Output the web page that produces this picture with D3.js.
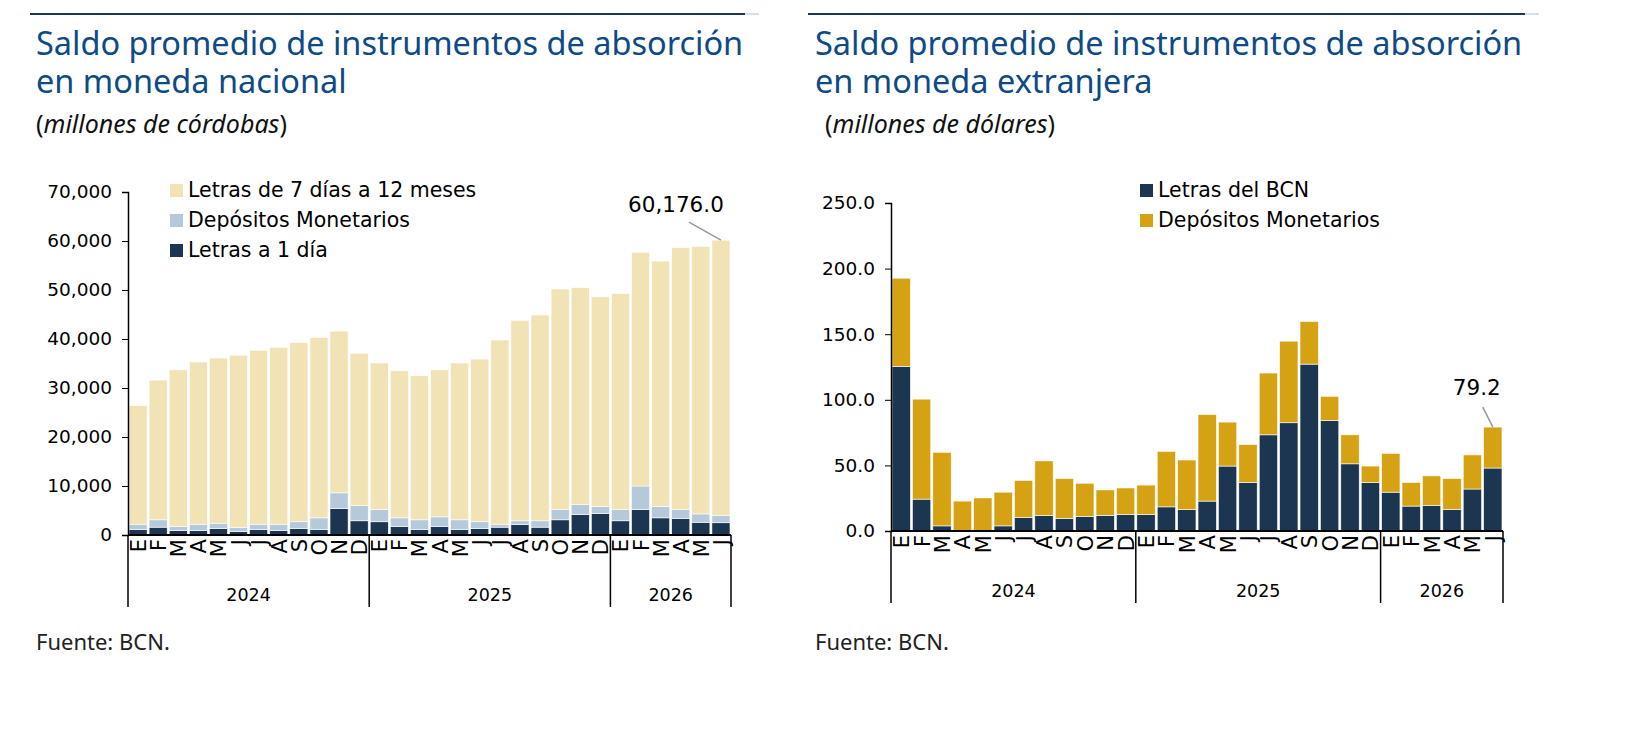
<!DOCTYPE html>
<html><head><meta charset="utf-8">
<script src="https://cdn.jsdelivr.net/npm/d3@7"></script>
<style>
body{margin:0;background:#fff;}
text{font-family:"DejaVu Sans",Verdana,sans-serif;}
.title{font-family:"Noto Sans",sans-serif;fill:#0d4a86;font-size:32.5px;}
.sub{font-family:"Noto Sans",sans-serif;fill:#111;font-size:25px;}
</style></head><body>
<svg id="c" width="1636" height="746"></svg>
<script>
// months and years shared by both panels
const months = ['E','F','M','A','M','J','J','A','S','O','N','D','E','F','M','A','M','J','J','A','S','O','N','D','E','F','M','A','M','J'];
const years = [{y:'2024',n:12},{y:'2025',n:12},{y:'2026',n:6}];

// left panel: millones de córdobas
const cordTotal = [26400,31600,33700,35300,36100,36700,37700,38300,39300,40300,41600,37100,
  35100,33500,32500,33700,35100,35900,39800,43800,44900,50200,50500,48600,49300,57700,55900,58700,58900,60176];
const letras1 = [1100,1600,900,900,1300,700,1100,900,1300,1100,5400,2900,
  2700,1700,1100,1700,1100,1300,1600,2100,1600,3100,4200,4400,2900,5200,3500,3400,2600,2500];
const depCord = [1100,1500,800,1300,1100,800,1100,1300,1400,2400,3200,3100,
  2500,1800,2000,2000,2000,1400,600,800,1300,2100,2000,1400,2300,4800,2300,1800,1700,1500];
const letras7 = cordTotal.map((t,i) => t - letras1[i] - depCord[i]);

// right panel: millones de dólares
const letrasBCN = [125.5,24.3,3.9,0,0,3.9,10.4,11.9,9.7,11.2,11.9,12.6,
  12.6,18.4,16.3,22.8,49.5,36.9,73.3,82.5,127.2,84.2,51.2,36.9,29.6,19,19.5,16.5,32,48];
const dolTotal = [192.7,100.5,60,22.8,25.2,29.6,38.6,53.4,40,36.4,31.3,32.8,
  35,60.7,54.1,88.8,83,65.8,120.4,144.7,159.7,102.7,73.3,49.5,59.2,37,42,40,58,79.2];
const depDol = dolTotal.map((t,i) => +(t - letrasBCN[i]).toFixed(1));

const svg = d3.select('#c');

function panel(o) {
  const g = svg.append('g');
  g.append('line').attr('x1',o.lx1).attr('x2',o.lx2).attr('y1',14).attr('y2',14).attr('stroke','#1c3550').attr('stroke-width',2);
  g.append('line').attr('x1',o.lx2).attr('x2',o.lx2+14).attr('y1',14).attr('y2',14).attr('stroke','#a9bfd4').attr('stroke-width',1);
  o.title.forEach((t,i) => g.append('text').attr('class','title').attr('x',o.tx).attr('y',55+i*38).text(t));
  g.append('text').attr('class','sub').attr('x',o.tx+o.subdx).attr('y',133).html(o.sub);
  g.append('text').attr('x',o.tx).attr('y',650).style('font-family','"Noto Sans",sans-serif').style('font-size','22px').attr('fill','#222').text('Fuente: BCN.');

  const x = d3.scaleBand().domain(d3.range(30)).range([o.x0,o.x1]).paddingInner(0.1).paddingOuter(0.05);
  const y = d3.scaleLinear().domain([0,o.max]).range([o.y0,o.ytop]);
  const stack = d3.stack().keys(o.keys.map((k,i)=>i))(d3.range(30).map(i => o.series.map(s => s[i])));
  stack.forEach((layer,li) => {
    g.selectAll(null).data(layer).enter().append('rect')
      .attr('x',(d,i)=>x(i)).attr('width',x.bandwidth())
      .attr('y',d=>y(d[1])).attr('height',d=>Math.max(0,y(d[0])-y(d[1])))
      .attr('fill',o.colors[li]).attr('stroke','#fff').attr('stroke-width',0.6);
  });
  const ax = d3.axisLeft(y).tickValues(d3.range(0,o.max+1,o.step)).tickFormat(o.fmt).tickSize(6).tickPadding(10);
  const ag = g.append('g').attr('transform',`translate(${o.x0},0)`).call(ax);
  ag.select('.domain').attr('stroke','#000').attr('stroke-width',1.5);
  ag.selectAll('text').style('font-size','18.5px').attr('fill','#000');
  // baseline + month/year labels
  g.append('line').attr('x1',o.x0).attr('x2',o.x1).attr('y1',o.y0).attr('y2',o.y0).attr('stroke','#000').attr('stroke-width',2);
  g.selectAll(null).data(months).enter().append('text')
    .attr('transform',(d,i)=>`translate(${x(i)+x.bandwidth()/2+8},${o.y0+4}) rotate(-90)`)
    .attr('text-anchor','end').style('font-size','21px').text(d=>d);
  let start = 0;
  const step = (o.x1-o.x0)/30;
  [0,...years.map(d=>start+=d.n)].forEach(v => {
    g.append('line').attr('x1',o.x0+v*step).attr('x2',o.x0+v*step).attr('y1',o.y0).attr('y2',o.y0+72).attr('stroke','#000').attr('stroke-width',1.5);
  });
  start = 0;
  years.forEach(d => {
    g.append('text').attr('x',o.x0+(start+d.n/2)*step).attr('y',o.y0+66).attr('text-anchor','middle').style('font-size','17.5px').text(d.y);
    start += d.n;
  });
  // legend
  o.legend.forEach((l,i) => {
    g.append('rect').attr('x',o.legX).attr('y',o.legY+i*30-13).attr('width',13).attr('height',13).attr('fill',o.colors[l.c]);
    g.append('text').attr('x',o.legX+18).attr('y',o.legY+i*30).style('font-size','20.5px').text(l.t);
  });
  // last value label
  const last = o.total[29];
  const lx = x(29)+x.bandwidth()/2;
  g.append('line').attr('x1',lx).attr('y1',y(last)).attr('x2',lx+o.lab.dx).attr('y2',y(last)+o.lab.dy).attr('stroke','#999').attr('stroke-width',1.5);
  g.append('text').attr('x',lx+o.lab.tx).attr('y',y(last)+o.lab.ty).attr('text-anchor','middle').style('font-size','21.5px').text(o.fmtLab(last));
}

panel({lx1:30,lx2:745,tx:36,subdx:0,title:['Saldo promedio de instrumentos de absorción','en moneda nacional'],
  sub:'(<tspan font-style="italic">millones de córdobas</tspan>)',
  x0:128,x1:731,y0:535,ytop:192,max:70000,step:10000,fmt:d3.format(','),
  keys:['a','b','c'],series:[letras1,depCord,letras7],colors:['#1c3550','#b5c9db','#f1e3b6'],
  total:cordTotal,legX:170,legY:197,
  legend:[{t:'Letras de 7 días a 12 meses',c:2},{t:'Depósitos Monetarios',c:1},{t:'Letras a 1 día',c:0}],
  lab:{dx:-32,dy:-18,tx:-45,ty:-28},fmtLab:d3.format(',.1f')});

panel({lx1:808,lx2:1525,tx:815,subdx:10,title:['Saldo promedio de instrumentos de absorción','en moneda extranjera'],
  sub:'(<tspan font-style="italic">millones de dólares</tspan>)',
  x0:891,x1:1503,y0:531,ytop:203,max:250,step:50,fmt:d3.format('.1f'),
  keys:['a','b'],series:[letrasBCN,depDol],colors:['#1c3550','#d4a212'],
  total:dolTotal,legX:1140,legY:197,
  legend:[{t:'Letras del BCN',c:0},{t:'Depósitos Monetarios',c:1}],
  lab:{dx:-10,dy:-20,tx:-16,ty:-32},fmtLab:d3.format('.1f')});
</script></body></html>
